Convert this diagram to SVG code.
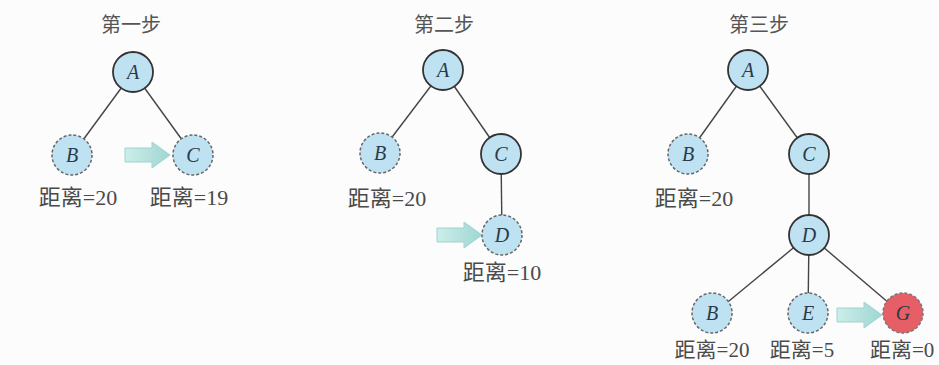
<svg xmlns="http://www.w3.org/2000/svg" width="939" height="365" viewBox="0 0 939 365">
<defs>
<style>
.title{font-family:"Noto Sans CJK SC","Liberation Sans",sans-serif;font-size:20px;fill:#555;text-anchor:middle}
.lbl{font-family:"Liberation Serif","Noto Sans CJK SC",serif;font-size:22px;fill:#4a4a4a;text-anchor:middle}
.lbl2{font-family:"Liberation Serif","Noto Sans CJK SC",serif;font-size:21px;fill:#4a4a4a;text-anchor:middle}
.nl{font-family:"Liberation Serif",serif;font-style:italic;font-size:20px;fill:#2a3a4a;text-anchor:middle}
.solid{fill:#bfe2f2;stroke:#333;stroke-width:1.8}
.dash{fill:#bfe2f2;stroke:#666;stroke-width:1.5;stroke-dasharray:3 2}
.goal{fill:#e65f67;stroke:#777;stroke-width:1.5;stroke-dasharray:3 2}
.edge{stroke:#444;stroke-width:1.4;fill:none}
.arr{fill:url(#ag);stroke:#9fd4d0;stroke-width:1}
</style>
<linearGradient id="ag" x1="0" x2="1" y1="0" y2="0">
<stop offset="0" stop-color="#cdeeea"/>
<stop offset="1" stop-color="#9fd6d2"/>
</linearGradient>
<path id="arrow" d="M0,-7 H27 V-13 L45,0 L27,13 V7 H0 Z"/>
</defs>
<rect width="939" height="365" fill="#fcfcfc"/>
<text class="title" x="131" y="32">第一步</text>
<text class="title" x="444" y="32">第二步</text>
<text class="title" x="759" y="32">第三步</text>
<g id="connectors">
<line class="edge" x1="133" y1="72" x2="72" y2="155"/>
<line class="edge" x1="133" y1="72" x2="193" y2="155"/>
<line class="edge" x1="443" y1="70" x2="380" y2="153"/>
<line class="edge" x1="443" y1="70" x2="501" y2="154"/>
<line class="edge" x1="501" y1="154" x2="502" y2="235"/>
<line class="edge" x1="748" y1="70" x2="688" y2="154"/>
<line class="edge" x1="748" y1="70" x2="809" y2="154"/>
<line class="edge" x1="809" y1="154" x2="809" y2="235"/>
<line class="edge" x1="809" y1="235" x2="712" y2="315"/>
<line class="edge" x1="809" y1="235" x2="808" y2="315"/>
<line class="edge" x1="809" y1="235" x2="903" y2="315"/>
</g>
<g id="arrows">
<use href="#arrow" class="arr" transform="translate(125,155)"/>
<use href="#arrow" class="arr" transform="translate(437,235)"/>
<use href="#arrow" class="arr" transform="translate(837,315)"/>
</g>
<g id="p1-A"><circle class="solid" cx="133" cy="72" r="20"/><text class="nl" x="133" y="79">A</text></g>
<g id="p1-B"><circle class="dash" cx="72" cy="155" r="20"/><text class="nl" x="72" y="162">B</text></g>
<g id="p1-C"><circle class="dash" cx="193" cy="155" r="20"/><text class="nl" x="193" y="162">C</text></g>
<text class="lbl" x="78" y="205">距离=20</text>
<text class="lbl" x="189" y="205">距离=19</text>
<g id="p2-A"><circle class="solid" cx="443" cy="70" r="20"/><text class="nl" x="443" y="77">A</text></g>
<g id="p2-B"><circle class="dash" cx="380" cy="153" r="20"/><text class="nl" x="380" y="160">B</text></g>
<g id="p2-C"><circle class="solid" cx="501" cy="154" r="20"/><text class="nl" x="501" y="161">C</text></g>
<g id="p2-D"><circle class="dash" cx="502" cy="235" r="20"/><text class="nl" x="502" y="242">D</text></g>
<text class="lbl" x="387" y="206">距离=20</text>
<text class="lbl" x="502" y="280">距离=10</text>
<g id="p3-A"><circle class="solid" cx="748" cy="70" r="20"/><text class="nl" x="748" y="77">A</text></g>
<g id="p3-B"><circle class="dash" cx="688" cy="154" r="20"/><text class="nl" x="688" y="161">B</text></g>
<g id="p3-C"><circle class="solid" cx="809" cy="154" r="20"/><text class="nl" x="809" y="161">C</text></g>
<g id="p3-D"><circle class="solid" cx="809" cy="235" r="20"/><text class="nl" x="809" y="242">D</text></g>
<g id="p3-B2"><circle class="dash" cx="712" cy="313" r="20"/><text class="nl" x="712" y="320">B</text></g>
<g id="p3-E"><circle class="dash" cx="808" cy="313" r="20"/><text class="nl" x="808" y="320">E</text></g>
<g id="p3-G"><circle class="goal" cx="903" cy="313" r="20"/><text class="nl" x="903" y="320">G</text></g>
<text class="lbl" x="694" y="206">距离=20</text>
<text class="lbl2" x="712" y="357">距离=20</text>
<text class="lbl2" x="802" y="357">距离=5</text>
<text class="lbl2" x="870" y="357" style="text-anchor:start">距离=0</text>
</svg>
